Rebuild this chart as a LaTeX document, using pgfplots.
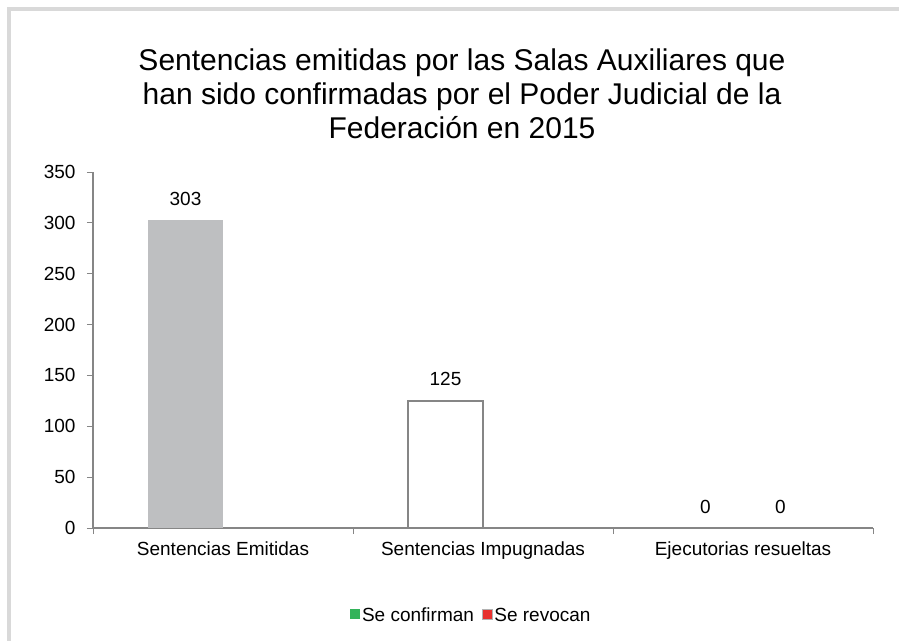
\documentclass[border=0pt]{standalone}
\usepackage{pgfplots}
\pgfplotsset{compat=1.18}
\usepackage{fontspec}
\setmainfont{Liberation Sans}
\definecolor{barGrey}{RGB}{190,191,193}
\definecolor{axGrey}{RGB}{134,134,134}
\definecolor{frameGrey}{RGB}{217,217,217}
\definecolor{sgreen}{RGB}{51,179,90}
\definecolor{sred}{RGB}{232,49,47}
\begin{document}
\begin{tikzpicture}[x=1pt,y=1pt]
\fill[white] (0,0) rectangle (899,641);
\fill[frameGrey] (7,630) rectangle (899,634);
\fill[frameGrey] (7,0) rectangle (11,634);
\node[align=center, font=\fontsize{30}{34}\selectfont] at (462,547)
  {Sentencias emitidas por las Salas Auxiliares que\\han sido confirmadas por el Poder Judicial de la\\Federación en 2015};
\begin{axis}[
  at={(93pt,113pt)}, anchor=south west,
  width=780pt, height=356pt, scale only axis,
  xmin=-0.5, xmax=2.5, ymin=0, ymax=350,
  axis x line=bottom, axis y line=left,
  axis line style={-, axGrey, line width=1.4pt},
  ytick={0,50,...,350},
  xtick={-0.5,0.5,1.5,2.5}, xticklabels={},
  extra x ticks={0,1,2},
  extra x tick labels={Sentencias Emitidas,Sentencias Impugnadas,Ejecutorias resueltas},
  extra x tick style={major tick length=0pt, tick label style={yshift=-10pt}},
  tick align=outside, major tick length=6pt,
  tick style={axGrey, line width=1pt},
  ticklabel style={font=\fontsize{19}{22}\selectfont},
  yticklabel style={xshift=-8pt},
  /pgf/number format/assume math mode=true,
  bar width=0.2885,
  nodes near coords,
  every node near coord/.append style={font=\fontsize{19}{22}\selectfont, black, yshift=11pt},
  legend style={at={(0.485,-0.25)}, anchor=center, draw=none, legend columns=2,
    font=\fontsize{19}{22}\selectfont,
    nodes={text height=1.5ex, text depth=0.3ex},
    /tikz/every even column/.append style={column sep=6pt}},
  legend image code/.code={\fill[#1] (2pt,0pt) rectangle (12pt,10pt);},
  clip=false,
]
\addplot[ybar, fill=barGrey, draw=none, bar shift=0, forget plot] coordinates {(-0.14425,303)};
\addplot[ybar, fill=white, draw=axGrey, line width=1.3pt, bar shift=0, forget plot] coordinates {(0.85575,125)};
\addplot[ybar, fill=none, draw=none, bar shift=0, forget plot] coordinates {(1.85575,0)};
\addplot[ybar, fill=none, draw=none, bar shift=0, forget plot] coordinates {(2.14425,0)};
\addlegendimage{fill=sgreen, draw=none}
\addlegendentry{Se confirman}
\addlegendimage{fill=sred, draw=gray!60}
\addlegendentry{Se revocan}
\end{axis}
\end{tikzpicture}
\end{document}
